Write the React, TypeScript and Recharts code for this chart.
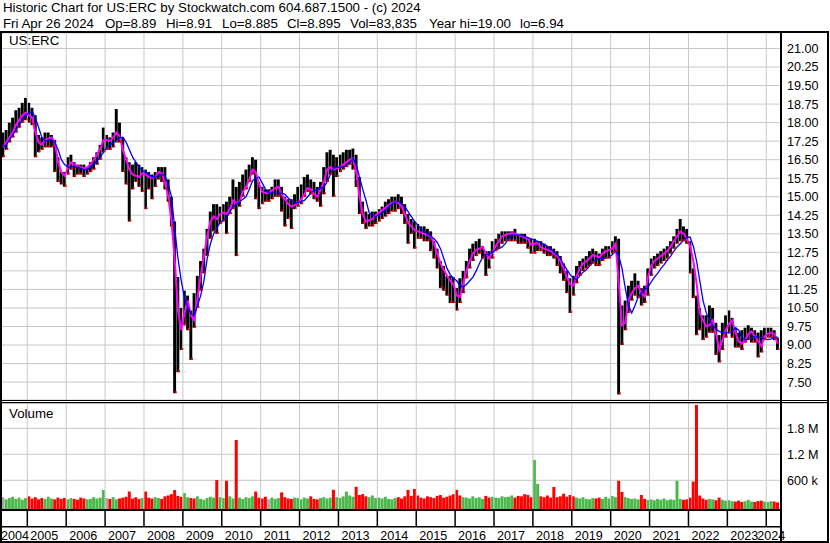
import {
  ComposedChart,
  Bar,
  Line,
  XAxis,
  YAxis,
  CartesianGrid,
  ReferenceLine,
  Cell,
} from "recharts"

// months are counted from Jan 2004, one bar per month, first bar = May 2004
const firstMonth = 4

const highs = [
  17.6, 17.7, 18.0, 18.2, 18.5, 18.6, 18.8, 19.0,
  18.8, 18.6, 18.3, 17.5, 17.4, 17.6, 17.6, 17.5, 17.3, 16.6, 16.0, 16.0,
  16.6, 16.7, 16.4, 16.3, 16.3, 16.3, 16.2, 16.4, 16.6, 16.8, 17.1, 17.8,
  17.5, 17.4, 17.6, 18.55, 18.0, 17.4, 16.6, 16.4, 16.3, 16.4, 16.3, 16.2,
  16.1, 16.0, 15.9, 16.0, 16.2, 16.2, 16.2, 15.7, 15.0, 14.0, 11.75, 10.5,
  11.2, 11.0, 10.4, 11.1, 11.8, 12.4, 12.9, 13.7, 14.4, 14.7, 14.7, 14.6,
  14.7, 14.8, 15.0, 15.7, 15.4, 15.6, 15.9, 16.1, 16.3, 16.6, 16.5, 15.6,
  15.4, 15.3, 15.3, 15.4, 15.7, 15.7, 15.4, 15.0, 14.9, 14.9, 15.1, 15.4,
  15.5, 15.8, 15.9, 15.7, 15.6, 15.4, 15.6, 16.2, 16.8, 16.9, 16.7, 16.6,
  16.7, 16.8, 16.9, 16.9, 16.95, 16.7, 15.8, 14.8, 14.4, 14.3, 14.4, 14.4,
  14.5, 14.6, 14.8, 14.9, 15.0, 15.0, 15.1, 15.0, 14.7, 14.3, 14.1, 14.0,
  13.9, 13.8, 13.8, 13.7, 13.6, 13.2, 12.9, 12.4, 12.2, 11.8, 11.8, 11.75,
  11.3, 11.7, 12.0, 12.4, 12.9, 13.1, 13.2, 13.3, 13.0, 12.8, 12.8, 13.2,
  13.3, 13.5, 13.6, 13.6, 13.6, 13.6, 13.7, 13.5, 13.5, 13.5, 13.3, 13.3,
  13.3, 13.2, 13.2, 13.1, 13.0, 13.0, 12.9, 12.8, 12.6, 12.3, 12.0, 11.7,
  11.8, 12.2, 12.4, 12.5, 12.6, 12.8, 12.9, 12.8, 12.7, 12.9, 13.0, 13.0,
  13.2, 13.4, 13.3, 10.6, 10.8, 11.4, 11.6, 11.9, 11.6, 11.3, 11.4, 12.1,
  12.5, 12.6, 12.7, 12.8, 12.9, 13.0, 13.2, 13.4, 13.7, 14.1, 13.8, 13.7,
  13.2, 12.1, 11.0, 10.5, 10.2, 10.2, 10.6, 10.5, 9.9, 9.4, 9.9, 10.2,
  10.4, 10.1, 9.7, 9.5, 9.6, 9.7, 9.8, 9.7, 9.6, 9.5, 9.6, 9.7,
  9.7, 9.7, 9.6, 9.3,
]

const lows = [
  16.6, 16.9, 17.2, 17.4, 17.6, 17.8, 18.0, 18.1,
  18.0, 17.9, 16.6, 16.8, 16.9, 17.0, 17.0, 17.0, 16.0, 15.6, 15.5, 15.4,
  15.9, 16.1, 15.8, 15.9, 15.9, 15.8, 15.9, 16.0, 16.1, 16.3, 16.5, 16.8,
  16.9, 16.9, 17.0, 17.2, 17.2, 16.0, 15.5, 14.0, 15.3, 15.6, 15.4, 15.2,
  14.5, 15.3, 14.9, 15.4, 15.7, 15.6, 15.3, 14.8, 13.8, 7.05, 7.9, 8.8,
  9.8, 9.6, 8.4, 9.7, 10.5, 11.2, 11.9, 12.6, 13.3, 13.6, 13.5, 13.9,
  14.0, 13.5, 14.3, 14.5, 12.6, 14.6, 15.0, 15.3, 15.6, 15.9, 14.9, 14.5,
  14.7, 14.8, 14.8, 14.9, 15.0, 15.0, 14.4, 13.8, 14.1, 13.7, 14.5, 14.6,
  14.7, 15.0, 15.2, 15.1, 14.9, 14.8, 14.6, 15.1, 15.6, 15.9, 15.0, 15.8,
  16.0, 16.1, 16.2, 16.3, 16.1, 15.4, 14.3, 13.9, 13.7, 13.8, 13.8, 13.9,
  14.0, 14.1, 14.2, 14.3, 14.4, 14.4, 14.5, 14.3, 13.9, 13.1, 13.5, 12.9,
  13.3, 13.3, 13.2, 13.2, 12.8, 12.5, 12.1, 11.3, 11.2, 11.0, 10.7, 10.7,
  10.4, 10.7, 11.1, 11.7, 12.1, 12.4, 12.6, 12.7, 12.5, 11.8, 12.1, 12.5,
  12.8, 12.9, 13.1, 13.2, 13.2, 13.2, 13.2, 13.1, 13.1, 13.1, 12.9, 12.7,
  12.7, 12.8, 12.8, 12.7, 12.6, 12.6, 12.5, 12.2, 11.9, 11.6, 11.1, 10.3,
  11.0, 11.5, 11.8, 12.0, 12.1, 12.2, 12.3, 12.2, 12.2, 12.4, 12.5, 12.5,
  12.7, 12.8, 7.0, 9.0, 9.6, 10.3, 10.8, 11.0, 10.9, 10.6, 10.7, 11.0,
  11.8, 12.1, 12.2, 12.3, 12.4, 12.5, 12.7, 12.9, 13.1, 13.2, 13.2, 13.1,
  11.9, 10.9, 9.4, 9.6, 9.2, 9.3, 9.5, 9.5, 8.6, 8.3, 8.8, 9.3,
  9.5, 9.3, 8.9, 8.9, 8.8, 9.1, 9.2, 9.1, 9.1, 8.5, 8.7, 9.2,
  9.3, 9.3, 9.2, 8.8,
]

// short average (magenta)
const closes = [
  17.0, 17.2, 17.4, 17.6, 17.9, 18.1, 18.3, 18.4,
  18.3, 18.2, 17.6, 17.2, 17.1, 17.3, 17.35, 17.4, 17.2, 16.4, 16.0, 15.85,
  16.15, 16.4, 16.3, 16.25, 16.2, 16.15, 16.2, 16.3, 16.5, 16.7, 16.95, 17.3,
  17.3, 17.25, 17.4, 17.6, 17.45, 16.9, 16.5, 16.1, 15.9, 15.85, 15.8, 15.95,
  15.9, 15.8, 15.76, 15.8, 16.0, 15.95, 15.55, 15.0, 14.0, 12.4, 10.4, 9.6,
  10.3, 10.8, 10.2, 10.0, 10.9, 11.8, 12.6, 13.4, 14.0, 14.2, 14.1, 14.3,
  14.35, 14.3, 14.5, 14.85, 14.75, 14.8, 15.2, 15.4, 15.7, 16.1, 16.0, 15.5,
  15.2, 15.15, 15.15, 15.25, 15.35, 15.4, 15.1, 14.9, 14.7, 14.6, 14.65, 14.75,
  14.9, 15.1, 15.35, 15.3, 15.1, 15.0, 15.3, 15.6, 16.1, 16.2, 16.1, 16.15,
  16.2, 16.3, 16.4, 16.5, 16.55, 16.0, 15.0, 14.3, 13.98, 14.05, 14.1, 14.25,
  14.35, 14.47, 14.55, 14.65, 14.74, 14.8, 14.75, 14.6, 14.3, 13.95, 13.8, 13.65,
  13.6, 13.55, 13.5, 13.45, 13.4, 13.1, 12.7, 12.3, 12.05, 11.8, 11.6, 11.45,
  11.0, 10.95, 11.5, 12.0, 12.4, 12.7, 12.85, 12.9, 12.97, 12.7, 12.5, 12.75,
  13.0, 13.2, 13.4, 13.45, 13.5, 13.52, 13.5, 13.45, 13.4, 13.35, 13.3, 13.05,
  13.1, 13.12, 12.95, 12.9, 12.85, 12.8, 12.7, 12.6, 12.4, 12.1, 11.75, 11.45,
  11.4, 11.8, 12.1, 12.3, 12.4, 12.5, 12.65, 12.6, 12.55, 12.7, 12.8, 12.85,
  12.9, 13.1, 11.5, 9.8, 9.9, 10.8, 11.1, 11.3, 11.4, 11.1, 10.95, 11.75,
  12.2, 12.4, 12.5, 12.6, 12.7, 12.8, 13.0, 13.2, 13.4, 13.6, 13.5, 13.3,
  13.0, 12.4, 11.5, 10.3, 10.0, 9.75, 9.8, 10.0, 9.45, 8.8, 9.2, 9.6,
  9.85, 10.0, 9.5, 9.15, 9.05, 9.2, 9.45, 9.55, 9.35, 9.15, 8.95, 9.35,
  9.45, 9.5, 9.45, 9.05,
]

// long average (blue)
const slowAvg = [
  17.0, 17.1, 17.3, 17.5, 17.7, 17.9, 18.1, 18.3,
  18.4, 18.45, 18.2, 17.8, 17.4, 17.25, 17.3, 17.3, 17.2, 16.9, 16.5, 16.3,
  16.2, 16.2, 16.2, 16.2, 16.15, 16.1, 16.1, 16.2, 16.3, 16.45, 16.6, 16.8,
  17.0, 17.1, 17.2, 17.3, 17.4, 17.4, 17.2, 16.9, 16.6, 16.4, 16.2, 16.05,
  16.0, 15.9, 15.8, 15.8, 15.85, 15.9, 15.85, 15.5, 15.0, 13.7, 12.5, 11.6,
  10.9, 10.55, 10.25, 10.2, 10.6, 11.0, 11.6, 12.5, 13.1, 13.5, 13.75, 13.95,
  14.05, 14.15, 14.4, 14.6, 14.7, 14.8, 14.9, 15.0, 15.3, 15.65, 15.75, 15.8,
  15.55, 15.3, 15.15, 15.15, 15.15, 15.15, 15.15, 15.1, 14.95, 14.85, 14.75, 14.75,
  14.8, 14.85, 15.0, 15.15, 15.25, 15.3, 15.35, 15.4, 15.6, 15.9, 16.15, 16.2,
  16.2, 16.2, 16.25, 16.4, 16.55, 16.3, 15.8, 15.3, 14.85, 14.35, 14.25, 14.2,
  14.25, 14.35, 14.45, 14.6, 14.7, 14.8, 14.8, 14.75, 14.6, 14.4, 14.2, 14.0,
  13.85, 13.7, 13.6, 13.5, 13.4, 13.3, 13.15, 12.9, 12.5, 12.1, 11.85, 11.7,
  11.6, 11.4, 11.35, 11.45, 11.6, 11.75, 12.0, 12.3, 12.55, 12.65, 12.7, 12.75,
  12.85, 12.9, 12.97, 13.1, 13.3, 13.45, 13.45, 13.45, 13.45, 13.4, 13.35, 13.3,
  13.25, 13.2, 13.15, 13.07, 13.0, 12.9, 12.75, 12.65, 12.5, 12.25, 12.05, 11.85,
  11.7, 11.65, 11.8, 11.95, 12.05, 12.2, 12.35, 12.45, 12.5, 12.5, 12.53, 12.56,
  12.65, 12.8, 12.6, 12.1, 11.3, 10.6, 10.3, 10.6, 10.95, 11.1, 11.25, 11.35,
  11.55, 11.75, 11.9, 12.1, 12.25, 12.44, 12.6, 12.8, 12.97, 13.1, 13.25, 13.35,
  13.37, 13.0, 12.4, 11.6, 10.8, 10.3, 10.0, 9.8, 9.65, 9.55, 9.5, 9.5,
  9.48, 9.55, 9.7, 9.6, 9.3, 9.2, 9.25, 9.3, 9.33, 9.33, 9.3, 9.25,
  9.22, 9.25, 9.3, 9.33,
]

// volume in thousands of shares
const volumesK = [
  210, 160, 190, 220, 170, 200, 150, 190,
  230, 180, 210, 160, 190, 170, 220, 180, 160, 200, 170, 190,
  160, 190, 170, 150, 200, 180, 160, 170, 210, 180, 200, 375,
  190, 170, 210, 160, 180, 200, 220, 340, 180, 210, 170, 190,
  340, 200, 180, 210, 190, 170, 230, 250, 280, 375, 240, 220,
  305, 210, 190, 180, 230, 170, 150, 190, 220, 200, 605, 210,
  190, 590, 230, 180, 1530, 200, 170, 210, 190, 230, 340, 200,
  180, 220, 160, 200, 170, 190, 320, 210, 180, 170, 200, 190,
  160, 200, 180, 230, 170, 160, 190, 210, 180, 200, 380, 210,
  190, 230, 340, 250, 220, 450, 260, 280, 230, 210, 250, 190,
  200, 180, 220, 170, 160, 190, 210, 180, 230, 378, 240, 400,
  250, 200, 180, 230, 210, 190, 240, 260, 200, 220, 250, 280,
  380, 250, 210, 200, 180, 230, 190, 210, 170, 240, 200, 220,
  200, 190, 230, 210, 220, 250, 200, 240, 230, 280, 260, 210,
  1070, 515, 230, 210, 250, 200, 445, 210, 230, 290, 220, 260,
  230, 200, 180, 210, 170, 160, 190, 180, 200, 170, 220, 180,
  240, 210, 590, 330, 210, 190, 170, 180, 160, 260, 170, 150,
  160, 140, 170, 150, 180, 140, 160, 150, 590, 170, 150, 160,
  200, 570, 2340, 250, 180, 150, 170, 160, 140, 200, 150, 130,
  140, 120, 110, 130, 100, 120, 150, 110, 100, 120, 130, 110,
  100, 120, 110, 90,
]

const years = [
  2004, 2005, 2006, 2007, 2008, 2009, 2010, 2011, 2012, 2013, 2014,
  2015, 2016, 2017, 2018, 2019, 2020, 2021, 2022, 2023, 2024,
]
const priceTicks = [
  7.5, 8.25, 9, 9.75, 10.5, 11.25, 12, 12.75, 13.5, 14.25,
  15, 15.75, 16.5, 17.25, 18, 18.75, 19.5, 20.25, 21,
]
const volumeTicks = [600000, 1200000, 1800000]

const title = "Historic Chart for US:ERC by Stockwatch.com 604.687.1500 - (c) 2024"
const quoteItems = [
  "Fri Apr 26 2024",
  "Op=8.89",
  "Hi=8.91",
  "Lo=8.885",
  "Cl=8.895",
  "Vol=83,835",
  "Year hi=19.00",
  "lo=6.94",
]
const quoteX = [3, 105, 166, 222, 287, 350, 429, 520]

const FONT = '"Liberation Sans", Arial, sans-serif'
const GRID = "#c8c8c8"
const X_DOMAIN: [number, number] = [3.885, 244.55]
const PRICE_DOMAIN: [number, number] = [6.775, 21.627]
const VOL_DOMAIN: [number, number] = [-62300, 2384000]

const rows = highs.map((hi, i) => {
  const prev = i > 0 ? closes[i - 1] : closes[i]
  return {
    m: firstMonth + i + 0.5,
    range: [lows[i], hi],
    lo: lows[i],
    close: closes[i],
    slow: slowAvg[i],
    volRange: [VOL_DOMAIN[0], volumesK[i] * 1000],
    volColor:
      closes[i] > prev ? "#4cb84c" : closes[i] < prev ? "#ff0000" : "#a8a8a8",
  }
})

const yearStarts = years.map((y) => (y - years[0]) * 12)
const yearTicks = yearStarts.map((m, i) => (i === 0 ? X_DOMAIN[0] : m))

const tickStyle = { fontSize: 12.6, fill: "#000", fontFamily: FONT }

const fmtVol = (v: number) =>
  v >= 1000000 ? `${(v / 1000000).toFixed(1)} M` : `${Math.round(v / 1000)} k`

function YearTick(props: any) {
  const { x, index } = props
  let tx = x + 3
  if (index === 0) tx = 1
  if (index === years.length - 1) tx = x - 9
  return (
    <g>
      {index > 0 && (
        <line x1={x} x2={x} y1={511} y2={527} stroke="#000" strokeWidth={1.5} />
      )}
      <text x={tx} y={540} fontSize={12.6} fontFamily={FONT} fill="#000">
        {years[index]}
      </text>
    </g>
  )
}

const lowTick = (p: any) => (
  <rect
    key={`lt${p.index}`}
    x={p.cx}
    y={p.cy - 2}
    width={2}
    height={2}
    fill="#ff0000"
  />
)

export default function App() {
  return (
    <div
      style={{
        position: "absolute",
        left: 0,
        top: 0,
        width: 830,
        height: 543,
        background: "#fff",
        overflow: "hidden",
      }}
    >
      <div style={{ position: "absolute", left: 0, top: 0 }}>
        <ComposedChart
          width={830}
          height={400}
          data={rows}
          margin={{ top: 33, right: 0, bottom: 0, left: 1 }}
        >
          <CartesianGrid vertical={false} stroke={GRID} />
          <XAxis type="number" dataKey="m" domain={X_DOMAIN} allowDataOverflow hide />
          <YAxis
            orientation="right"
            width={49}
            domain={PRICE_DOMAIN}
            ticks={priceTicks}
            allowDataOverflow
            interval={0}
            tickLine={false}
            axisLine={false}
            tickSize={4}
            tickMargin={2}
            tick={tickStyle}
            tickFormatter={(v: number) => v.toFixed(2)}
          />
          {yearStarts.slice(1).map((m) => (
            <ReferenceLine key={m} x={m} stroke={GRID} />
          ))}
          <Bar dataKey="range" fill="#000" barSize={4} isAnimationActive={false} />
          <Line
            dataKey="lo"
            stroke="none"
            dot={lowTick}
            activeDot={false}
            isAnimationActive={false}
          />
          <Line
            type="linear"
            dataKey="close"
            stroke="#ff00ff"
            strokeWidth={2}
            dot={false}
            activeDot={false}
            isAnimationActive={false}
          />
          <Line
            type="linear"
            dataKey="slow"
            stroke="#0000ff"
            strokeWidth={1.3}
            dot={false}
            activeDot={false}
            isAnimationActive={false}
          />
        </ComposedChart>
      </div>

      <div style={{ position: "absolute", left: 0, top: 0 }}>
        <ComposedChart
          width={830}
          height={543}
          data={rows}
          margin={{ top: 403, right: 0, bottom: 0, left: 1 }}
        >
          <CartesianGrid vertical={false} stroke={GRID} />
          <XAxis
            type="number"
            dataKey="m"
            domain={X_DOMAIN}
            allowDataOverflow
            ticks={yearTicks}
            interval={0}
            height={34}
            tickLine={false}
            axisLine={false}
            tick={(p: any) => <YearTick {...p} />}
          />
          <YAxis
            orientation="right"
            width={49}
            domain={VOL_DOMAIN}
            ticks={volumeTicks}
            allowDataOverflow
            interval={0}
            tickLine={false}
            axisLine={false}
            tickSize={4}
            tickMargin={2}
            tick={tickStyle}
            tickFormatter={fmtVol}
          />
          {yearStarts.slice(1).map((m) => (
            <ReferenceLine key={m} x={m} stroke={GRID} />
          ))}
          <Bar dataKey="volRange" barSize={3} isAnimationActive={false}>
            {rows.map((r, i) => (
              <Cell key={i} fill={r.volColor} />
            ))}
          </Bar>
        </ComposedChart>
      </div>

      <svg
        width={830}
        height={543}
        style={{ position: "absolute", left: 0, top: 0, pointerEvents: "none" }}
        fontFamily={FONT}
      >
        <text x={3} y={11.5} fontSize={13.3} fill="#000">
          {title}
        </text>
        {quoteItems.map((q, i) => (
          <text key={q} x={quoteX[i]} y={28} fontSize={13.3} fill="#000">
            {q}
          </text>
        ))}
        <text x={9} y={45} fontSize={13.3} fill="#000">US:ERC</text>
        <text x={9} y={418} fontSize={13.3} fill="#000">Volume</text>

        <rect x={0} y={31} width={829} height={2} fill="#000" />
        <rect x={0} y={31} width={2} height={512} fill="#000" />
        <rect x={780} y={31} width={2} height={512} fill="#000" />
        <rect x={827} y={31} width={2} height={512} fill="#000" />
        <rect x={0} y={400} width={829} height={1} fill="#000" />
        <rect x={0} y={402} width={829} height={1.2} fill="#000" />
        <rect x={0} y={509} width={781} height={2} fill="#000" />
        <rect x={0} y={526} width={781} height={1.5} fill="#000" />
        <rect x={0} y={541} width={829} height={2} fill="#000" />
      </svg>
    </div>
  )
}
